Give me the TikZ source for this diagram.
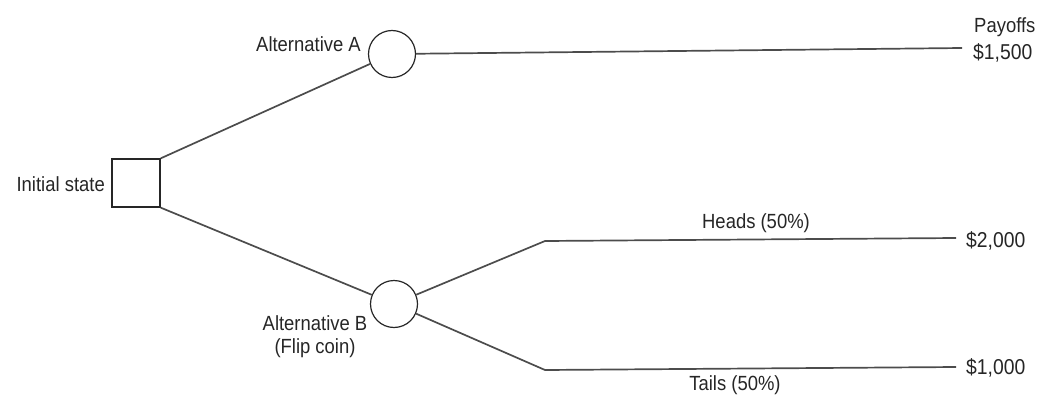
\documentclass[tikz,border=0pt]{standalone}
\usepackage{fontspec}
\setmainfont{Liberation Sans}[FakeStretch=0.9]
\begin{document}
\begin{tikzpicture}[x=1pt,y=-1pt,
  edge/.style={draw=black!70,line width=1.7pt},
  lbl/.style={font=\fontsize{20.5}{23}\selectfont,text=black!85,inner sep=0pt},
  num/.style={lbl,font=\fontsize{21.5}{23}\selectfont},
  chance/.style={circle,draw=black!85,line width=1.2pt,minimum size=47pt,inner sep=0pt},
  decision/.style={rectangle,draw=black!85,line width=1.2pt,minimum size=48pt,inner sep=0pt}]
\useasboundingbox (0,0) rectangle (1041,396);
\node[decision] (s) at (136,183) {};
\node[chance] (a) at (392,54) {};
\node[chance] (b) at (394,304) {};
\node[lbl,anchor=east] (ls) at (105,184) {Initial state};
\node[lbl,anchor=east] (la) at (361,44) {Alternative A};
\node[lbl,align=center] (lb) at (315,337) {Alternative B\\(Flip coin)};
\coordinate (ea) at (962,48);
\coordinate (hb) at (545,241);
\coordinate (he) at (956,238);
\coordinate (tb) at (545,370);
\coordinate (te) at (956,367);
\node[num,anchor=west] (pa) at (973,53) {\$1,500};
\node[lbl,anchor=west] (pt) at (974,27) {Payoffs};
\node[num,anchor=west] (ph) at (966,241) {\$2,000};
\node[num,anchor=west] (pl) at (966,368) {\$1,000};
\node[lbl] (hl) at (756,223) {Heads (50\%)};
\node[lbl] (tl) at (735,385) {Tails (50\%)};
\draw[edge] (s.north east) -- (a);
\draw[edge] (s.south east) -- (b);
\draw[edge] (a) -- (ea);
\draw[edge] (b) -- (hb) -- (he);
\draw[edge] (b) -- (tb) -- (te);
\end{tikzpicture}
\end{document}
